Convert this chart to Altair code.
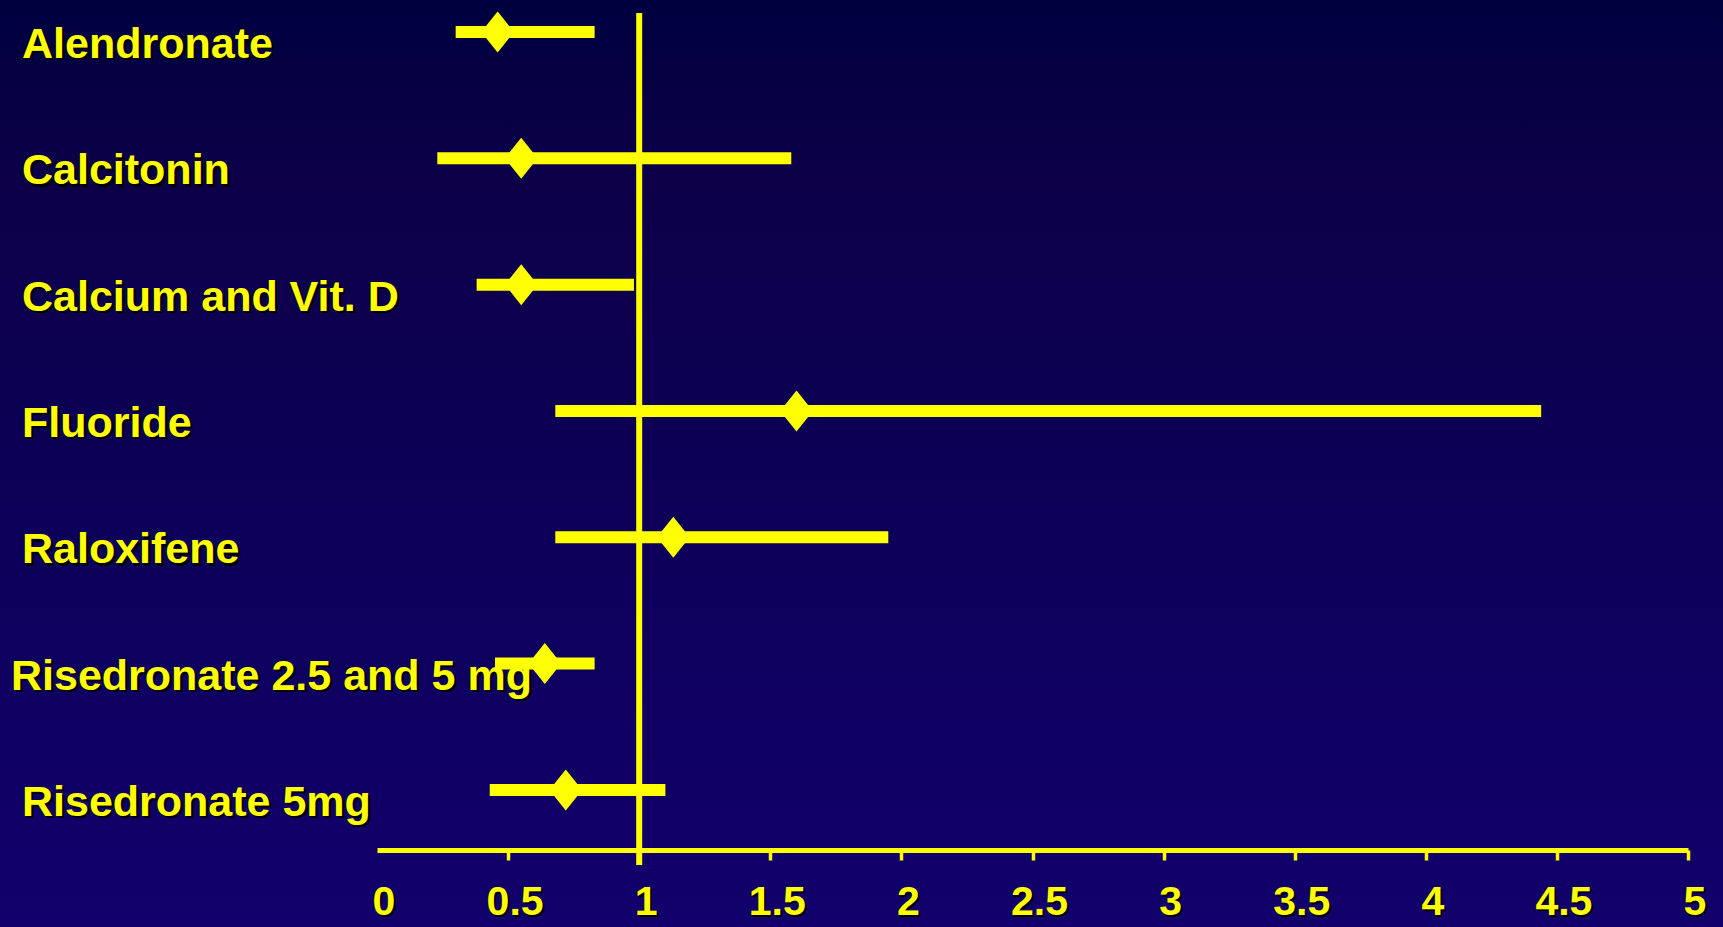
import altair as alt
import pandas as pd

# Relative risk of non-vertebral fracture with 95% confidence interval
drugs = [
    "Alendronate",
    "Calcitonin",
    "Calcium and Vit. D",
    "Fluoride",
    "Raloxifene",
    "Risedronate 2.5 and 5 mg",
    "Risedronate 5mg",
]
rr = [0.46, 0.55, 0.55, 1.60, 1.13, 0.64, 0.72]
lower = [0.30, 0.23, 0.38, 0.68, 0.68, 0.45, 0.43]
upper = [0.83, 1.58, 0.98, 4.44, 1.95, 0.83, 1.10]

tick_values = [0, 0.5, 1, 1.5, 2, 2.5, 3, 3.5, 4, 4.5, 5]
tick_labels = ["0", "0.5", "1", "1.5", "2", "2.5", "3", "3.5", "4", "4.5", "5"]

LONG_NAME = "Risedronate 2.5 and 5 mg"

df = pd.DataFrame({"drug": drugs, "rr": rr, "lower": lower, "upper": upper})
ticks_df = pd.DataFrame({"v": tick_values, "label": tick_labels})
short_names_df = pd.DataFrame({"drug": [d for d in drugs if d != LONG_NAME]})
long_name_df = pd.DataFrame({"drug": [LONG_NAME]})

W, H = 1311, 837
YELLOW = "#ffff00"
SHADOW = "#000000"
FONT = "Liberation Sans"

x_scale = alt.Scale(domain=[0, 5], nice=False, zero=False)
y_scale = alt.Scale(type="point", domain=drugs, padding=0.3127, align=0.24)

# Axis line with ticks only; the numbers are drawn as shadowed text below
x_axis = alt.Axis(
    values=[0.5, 1, 1.5, 2, 2.5, 3, 3.5, 4, 4.5, 5],
    labels=False, grid=False, title=None,
    domainColor=YELLOW, domainWidth=5,
    tickColor=YELLOW, tickWidth=3.5, tickSize=10,
    zindex=1,
)

# Slide background: dark navy fading to indigo
background = alt.Chart(pd.DataFrame({"k": [0]})).mark_rect(
    color=alt.Gradient(
        gradient="linear",
        stops=[
            alt.GradientStop(color="#00003e", offset=0),
            alt.GradientStop(color="#0d0049", offset=0.2),
            alt.GradientStop(color="#0c0058", offset=0.55),
            alt.GradientStop(color="#12006c", offset=1),
        ],
        x1=0, x2=0, y1=0, y2=1,
    )
).encode(
    x=alt.value(-377), x2=alt.value(W + 35),
    y=alt.value(-13), y2=alt.value(H + 77),
)

base = alt.Chart(df)

ci = base.mark_rule(color=YELLOW, strokeWidth=12, strokeCap="butt").encode(
    x=alt.X("lower:Q", scale=x_scale, axis=x_axis),
    x2="upper:Q",
    y=alt.Y("drug:N", scale=y_scale, axis=None),
)

ref_line = alt.Chart(pd.DataFrame({"ref": [1]})).mark_rule(
    color=YELLOW, strokeWidth=6
).encode(
    x=alt.X("ref:Q", scale=x_scale, axis=x_axis),
    y=alt.value(0), y2=alt.value(H + 15),
)

diamond = base.mark_point(
    shape="M0,-1L0.8,0L0,1L-0.8,0Z", filled=True, opacity=1,
    color=YELLOW, size=1681,
).encode(
    x=alt.X("rr:Q", scale=x_scale, axis=x_axis),
    y=alt.Y("drug:N", scale=y_scale, axis=None),
)


def drug_labels(data, left):
    common = dict(align="left", baseline="alphabetic", font=FONT,
                  fontWeight="bold", fontSize=43)
    shadow = alt.Chart(data).mark_text(color=SHADOW, dx=2.5, dy=28.5, **common).encode(
        x=alt.value(left), y=alt.Y("drug:N", scale=y_scale, axis=None), text="drug:N")
    front = alt.Chart(data).mark_text(color=YELLOW, dy=26, **common).encode(
        x=alt.value(left), y=alt.Y("drug:N", scale=y_scale, axis=None), text="drug:N")
    return [shadow, front]


labels_main = drug_labels(short_names_df, -355)
labels_long = drug_labels(long_name_df, -366)

tick_common = dict(align="center", baseline="alphabetic", font=FONT,
                   fontWeight="bold", fontSize=41)
tick_shadow = alt.Chart(ticks_df).mark_text(color=SHADOW, dx=9, dy=2, **tick_common).encode(
    x=alt.X("v:Q", scale=x_scale, axis=x_axis), y=alt.value(H + 65), text="label:N")
tick_text = alt.Chart(ticks_df).mark_text(color=YELLOW, dx=7, **tick_common).encode(
    x=alt.X("v:Q", scale=x_scale, axis=x_axis), y=alt.value(H + 65), text="label:N")

chart = alt.layer(
    background, *labels_main, *labels_long, ref_line, ci, diamond, tick_shadow, tick_text
).properties(
    width=W, height=H,
    autosize=alt.AutoSizeParams(type="none"),
    padding={"left": 377, "top": 13, "right": 35, "bottom": 77},
).configure(
    background="#0b0052",
).configure_view(
    stroke=None,
)

chart.save("out.html", embed_options={"renderer": "svg", "actions": False})
